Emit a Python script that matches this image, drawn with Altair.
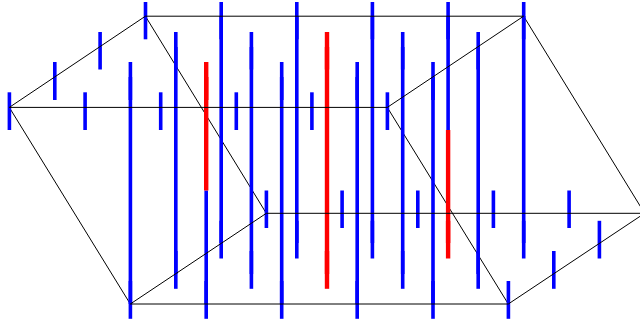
import altair as alt
import pandas as pd

W, H = 640, 326

# x positions of the tall columns, by depth row
row0_x = [9.4, 85.1, 160.7, 236.3, 311.9, 387.4]
row1_x = [54.8, 130.4, 206.2, 281.7, 357.2, 433]
row2_x = [100.1, 175.8, 251.4, 327, 402.7, 478.2]
row3_x = [145.5, 221.2, 296.8, 372.4, 448.1, 523.7]
floor0_x = [130.4, 206.2, 281.7, 357.2, 433, 508.4]
floor1_x = [175.8, 251.4, 327, 402.7, 478.2, 553.8]
floor2_x = [221.2, 296.8, 372.4, 448.1, 523.7, 599.4]
floor3_x = [266.4, 342.1, 417.8, 493.4, 569.1]

# (y start, y end) of each family of segments
top_spans = [(92.3, 130), (62, 100), (32, 69.5), (2, 39.3)]
floor_spans = [(281, 318.8), (251, 288.8), (220.8, 258.5), (190.5, 228)]
stem_spans = [(77, 304), (47, 274), (16, 243)]

red_x_a, red_x_b, red_x_c = 206.2, 327, 448.1
red_y_a, red_y_c = 190.5, 130

# wireframe
edge_under_x = [[9.3, 130.3], [145.4, 266.3], [523.6, 644.6], [387.3, 508.3]]
edge_under_y = [[107.4, 304], [16.2, 213.3], [16.2, 213.3], [107.4, 304]]
edge_over_x = [[9.3, 145.4], [145.4, 523.6], [523.6, 387.3], [387.3, 9.3],
               [130.3, 266.3], [266.3, 644.6], [644.6, 508.3], [508.3, 130.3]]
edge_over_y = [[107.4, 16.2], [16.2, 16.2], [16.2, 107.4], [107.4, 107.4],
               [304, 213.3], [213.3, 213.3], [213.3, 304], [304, 304]]

blue, red = [], []


def add(xs, span):
    for x in xs:
        y1, y2 = span
        if x == red_x_b and y1 < 290 and y1 != 16:
            red.append((x, y1, y2))
        elif x == red_x_a and span in (top_spans[1], stem_spans[0]):
            ye = min(y2, red_y_a)
            red.append((x, y1, ye))
            if y2 > red_y_a:
                blue.append((x, red_y_a, y2))
        elif x == red_x_c and span == stem_spans[2]:
            blue.append((x, y1, red_y_c))
            red.append((x, red_y_c, y2))
        elif x == red_x_c and span == floor_spans[2]:
            red.append((x, y1, y2))
        else:
            blue.append((x, y1, y2))


for xs, s in zip([row0_x, row1_x, row2_x, row3_x], top_spans):
    add(xs, s)
for xs, s in zip([floor0_x, floor1_x, floor2_x, floor3_x], floor_spans):
    add(xs, s)
add(row1_x[1:], stem_spans[0])
add(row2_x[1:], stem_spans[1])
add(row3_x[1:], stem_spans[2])

blue_df = pd.DataFrame(blue, columns=["x", "y", "y2"])
red_df = pd.DataFrame(red, columns=["x", "y", "y2"])

xs = alt.Scale(domain=[0, W], range=[0, W])
ys = alt.Scale(domain=[0, H], range=[0, H])


def rules(df, color, width):
    return alt.Chart(df).mark_rule(color=color, strokeWidth=width, strokeCap="butt").encode(
        x=alt.X("x:Q", scale=xs, axis=None),
        y=alt.Y("y:Q", scale=ys, axis=None),
        y2="y2:Q",
    )


def edges(xl, yl):
    rows = []
    for k, (a, b) in enumerate(zip(xl, yl)):
        rows += [{"e": k, "o": 0, "x": a[0], "y": b[0]}, {"e": k, "o": 1, "x": a[1], "y": b[1]}]
    return alt.Chart(pd.DataFrame(rows)).mark_line(color="#000000", strokeWidth=1, clip=True).encode(
        x=alt.X("x:Q", scale=xs, axis=None),
        y=alt.Y("y:Q", scale=ys, axis=None),
        detail="e:N",
        order="o:Q",
    )


chart = alt.layer(
    edges(edge_under_x, edge_under_y),
    rules(blue_df, "#0000ff", 3.6),
    rules(red_df, "#ff0000", 4.4),
    edges(edge_over_x, edge_over_y),
).properties(
    width=W, height=H, padding=0,
    autosize=alt.AutoSizeParams(type="none"),
).configure_view(stroke=None)

chart.save("out.html", embed_options={"renderer": "svg", "actions": False,
                                      "defaultStyle": "body{margin:0}"})
